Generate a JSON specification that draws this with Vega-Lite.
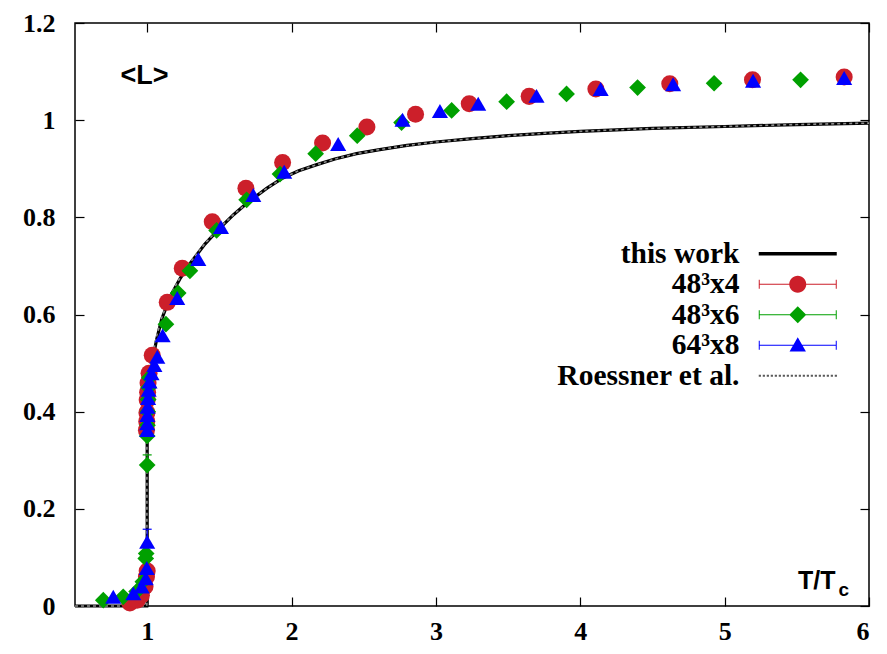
{
  "$schema": "https://vega.github.io/schema/vega-lite/v6.json",
  "width": 794,
  "height": 583,
  "autosize": {"type": "none"},
  "padding": {"left": 75, "top": 23, "right": 18, "bottom": 48},
  "background": "white",
  "config": {
    "view": {"stroke": "#000000", "strokeWidth": 1.5},
    "axis": {
      "domain": false,
      "grid": false,
      "tickColor": "#000000",
      "tickWidth": 1.2,
      "tickSize": -9,
      "labelFont": "Liberation Serif",
      "labelFontWeight": "bold",
      "labelFontSize": 26,
      "labelColor": "#000000",
      "titleColor": "#000000"
    }
  },
  "datasets": {
    "curves": [
      {"series": "this work", "i": 0, "T": 0.5, "L": 0},
      {"series": "this work", "i": 1, "T": 0.998, "L": 0},
      {"series": "this work", "i": 2, "T": 1.0, "L": 0.005},
      {"series": "this work", "i": 3, "T": 1.0, "L": 0.4},
      {"series": "this work", "i": 4, "T": 1.004, "L": 0.43},
      {"series": "this work", "i": 5, "T": 1.01, "L": 0.452},
      {"series": "this work", "i": 6, "T": 1.02, "L": 0.476},
      {"series": "this work", "i": 7, "T": 1.04, "L": 0.51},
      {"series": "this work", "i": 8, "T": 1.065, "L": 0.548},
      {"series": "this work", "i": 9, "T": 1.1, "L": 0.59},
      {"series": "this work", "i": 10, "T": 1.16, "L": 0.637},
      {"series": "this work", "i": 11, "T": 1.23, "L": 0.675},
      {"series": "this work", "i": 12, "T": 1.3, "L": 0.706},
      {"series": "this work", "i": 13, "T": 1.4, "L": 0.745},
      {"series": "this work", "i": 14, "T": 1.5, "L": 0.777},
      {"series": "this work", "i": 15, "T": 1.6, "L": 0.806},
      {"series": "this work", "i": 16, "T": 1.71, "L": 0.834},
      {"series": "this work", "i": 17, "T": 1.83, "L": 0.86},
      {"series": "this work", "i": 18, "T": 1.94, "L": 0.881},
      {"series": "this work", "i": 19, "T": 2.05, "L": 0.896},
      {"series": "this work", "i": 20, "T": 2.17, "L": 0.908},
      {"series": "this work", "i": 21, "T": 2.3, "L": 0.92},
      {"series": "this work", "i": 22, "T": 2.45, "L": 0.931},
      {"series": "this work", "i": 23, "T": 2.6, "L": 0.939},
      {"series": "this work", "i": 24, "T": 2.8, "L": 0.948},
      {"series": "this work", "i": 25, "T": 3.0, "L": 0.955},
      {"series": "this work", "i": 26, "T": 3.25, "L": 0.962},
      {"series": "this work", "i": 27, "T": 3.5, "L": 0.968},
      {"series": "this work", "i": 28, "T": 3.75, "L": 0.973},
      {"series": "this work", "i": 29, "T": 4.0, "L": 0.977},
      {"series": "this work", "i": 30, "T": 4.5, "L": 0.983},
      {"series": "this work", "i": 31, "T": 5.0, "L": 0.987},
      {"series": "this work", "i": 32, "T": 5.5, "L": 0.991},
      {"series": "this work", "i": 33, "T": 6.0, "L": 0.994},
      {"series": "Roessner et al.", "i": 0, "T": 0.5, "L": 0},
      {"series": "Roessner et al.", "i": 1, "T": 0.997, "L": 0},
      {"series": "Roessner et al.", "i": 2, "T": 0.998, "L": 0.005},
      {"series": "Roessner et al.", "i": 3, "T": 0.998, "L": 0.4},
      {"series": "Roessner et al.", "i": 4, "T": 1.002, "L": 0.432},
      {"series": "Roessner et al.", "i": 5, "T": 1.008, "L": 0.455},
      {"series": "Roessner et al.", "i": 6, "T": 1.018, "L": 0.48},
      {"series": "Roessner et al.", "i": 7, "T": 1.038, "L": 0.514},
      {"series": "Roessner et al.", "i": 8, "T": 1.062, "L": 0.552},
      {"series": "Roessner et al.", "i": 9, "T": 1.1, "L": 0.593},
      {"series": "Roessner et al.", "i": 10, "T": 1.16, "L": 0.64},
      {"series": "Roessner et al.", "i": 11, "T": 1.23, "L": 0.677},
      {"series": "Roessner et al.", "i": 12, "T": 1.3, "L": 0.708},
      {"series": "Roessner et al.", "i": 13, "T": 1.4, "L": 0.746},
      {"series": "Roessner et al.", "i": 14, "T": 1.5, "L": 0.778},
      {"series": "Roessner et al.", "i": 15, "T": 1.6, "L": 0.806},
      {"series": "Roessner et al.", "i": 16, "T": 1.71, "L": 0.834},
      {"series": "Roessner et al.", "i": 17, "T": 1.83, "L": 0.86},
      {"series": "Roessner et al.", "i": 18, "T": 1.94, "L": 0.881},
      {"series": "Roessner et al.", "i": 19, "T": 2.05, "L": 0.896},
      {"series": "Roessner et al.", "i": 20, "T": 2.17, "L": 0.908},
      {"series": "Roessner et al.", "i": 21, "T": 2.3, "L": 0.92},
      {"series": "Roessner et al.", "i": 22, "T": 2.45, "L": 0.931},
      {"series": "Roessner et al.", "i": 23, "T": 2.6, "L": 0.939},
      {"series": "Roessner et al.", "i": 24, "T": 2.8, "L": 0.948},
      {"series": "Roessner et al.", "i": 25, "T": 3.0, "L": 0.955},
      {"series": "Roessner et al.", "i": 26, "T": 3.25, "L": 0.962},
      {"series": "Roessner et al.", "i": 27, "T": 3.5, "L": 0.968},
      {"series": "Roessner et al.", "i": 28, "T": 3.75, "L": 0.973},
      {"series": "Roessner et al.", "i": 29, "T": 4.0, "L": 0.977},
      {"series": "Roessner et al.", "i": 30, "T": 4.5, "L": 0.983},
      {"series": "Roessner et al.", "i": 31, "T": 5.0, "L": 0.987},
      {"series": "Roessner et al.", "i": 32, "T": 5.5, "L": 0.991},
      {"series": "Roessner et al.", "i": 33, "T": 6.0, "L": 0.994}
    ],
    "points": [
      {"series": "48³x4", "T": 0.88, "L": 0.006},
      {"series": "48³x4", "T": 0.93, "L": 0.012},
      {"series": "48³x4", "T": 0.96, "L": 0.022},
      {"series": "48³x4", "T": 0.985, "L": 0.04},
      {"series": "48³x4", "T": 0.995, "L": 0.06},
      {"series": "48³x4", "T": 1.0, "L": 0.072},
      {"series": "48³x4", "T": 0.995, "L": 0.362},
      {"series": "48³x4", "T": 0.997, "L": 0.38},
      {"series": "48³x4", "T": 0.998, "L": 0.398},
      {"series": "48³x4", "T": 1.0, "L": 0.424},
      {"series": "48³x4", "T": 1.003, "L": 0.44},
      {"series": "48³x4", "T": 1.006, "L": 0.459},
      {"series": "48³x4", "T": 1.013, "L": 0.479},
      {"series": "48³x4", "T": 1.035, "L": 0.516},
      {"series": "48³x4", "T": 1.139, "L": 0.625},
      {"series": "48³x4", "T": 1.243, "L": 0.695},
      {"series": "48³x4", "T": 1.451, "L": 0.791},
      {"series": "48³x4", "T": 1.684, "L": 0.86},
      {"series": "48³x4", "T": 1.938, "L": 0.913},
      {"series": "48³x4", "T": 2.215, "L": 0.953},
      {"series": "48³x4", "T": 2.522, "L": 0.986},
      {"series": "48³x4", "T": 2.859, "L": 1.012},
      {"series": "48³x4", "T": 3.231, "L": 1.034},
      {"series": "48³x4", "T": 3.646, "L": 1.049},
      {"series": "48³x4", "T": 4.108, "L": 1.064},
      {"series": "48³x4", "T": 4.62, "L": 1.075},
      {"series": "48³x4", "T": 5.193, "L": 1.083},
      {"series": "48³x4", "T": 5.828, "L": 1.089},
      {"series": "48³x6", "T": 0.696, "L": 0.012},
      {"series": "48³x6", "T": 0.834, "L": 0.019},
      {"series": "48³x6", "T": 0.927, "L": 0.03},
      {"series": "48³x6", "T": 0.97, "L": 0.05},
      {"series": "48³x6", "T": 0.99, "L": 0.098},
      {"series": "48³x6", "T": 0.993, "L": 0.108},
      {"series": "48³x6", "T": 1.0, "L": 0.29, "lo": 0.274, "hi": 0.311},
      {"series": "48³x6", "T": 1.0, "L": 0.35},
      {"series": "48³x6", "T": 1.002, "L": 0.372},
      {"series": "48³x6", "T": 1.004, "L": 0.4},
      {"series": "48³x6", "T": 1.007, "L": 0.425},
      {"series": "48³x6", "T": 1.01, "L": 0.45},
      {"series": "48³x6", "T": 1.015, "L": 0.47},
      {"series": "48³x6", "T": 1.13, "L": 0.58},
      {"series": "48³x6", "T": 1.215, "L": 0.644},
      {"series": "48³x6", "T": 1.296, "L": 0.69},
      {"series": "48³x6", "T": 1.481, "L": 0.773},
      {"series": "48³x6", "T": 1.689, "L": 0.836},
      {"series": "48³x6", "T": 1.92, "L": 0.889},
      {"series": "48³x6", "T": 2.167, "L": 0.931},
      {"series": "48³x6", "T": 2.455, "L": 0.968},
      {"series": "48³x6", "T": 2.762, "L": 0.995},
      {"series": "48³x6", "T": 3.109, "L": 1.02},
      {"series": "48³x6", "T": 3.49, "L": 1.038},
      {"series": "48³x6", "T": 3.905, "L": 1.054},
      {"series": "48³x6", "T": 4.397, "L": 1.067},
      {"series": "48³x6", "T": 4.927, "L": 1.076},
      {"series": "48³x6", "T": 5.526, "L": 1.083},
      {"series": "64³x8", "T": 0.765, "L": 0.019},
      {"series": "64³x8", "T": 0.904, "L": 0.026},
      {"series": "64³x8", "T": 0.962, "L": 0.04},
      {"series": "64³x8", "T": 0.99, "L": 0.057},
      {"series": "64³x8", "T": 0.997, "L": 0.078},
      {"series": "64³x8", "T": 1.0, "L": 0.132, "lo": 0.095, "hi": 0.158},
      {"series": "64³x8", "T": 1.0, "L": 0.362},
      {"series": "64³x8", "T": 1.0, "L": 0.376},
      {"series": "64³x8", "T": 1.001, "L": 0.393},
      {"series": "64³x8", "T": 1.003, "L": 0.41},
      {"series": "64³x8", "T": 1.006, "L": 0.428},
      {"series": "64³x8", "T": 1.01, "L": 0.445},
      {"series": "64³x8", "T": 1.016, "L": 0.462},
      {"series": "64³x8", "T": 1.03, "L": 0.479},
      {"series": "64³x8", "T": 1.05, "L": 0.496},
      {"series": "64³x8", "T": 1.07, "L": 0.513},
      {"series": "64³x8", "T": 1.107, "L": 0.557},
      {"series": "64³x8", "T": 1.208, "L": 0.634},
      {"series": "64³x8", "T": 1.354, "L": 0.714},
      {"series": "64³x8", "T": 1.511, "L": 0.78},
      {"series": "64³x8", "T": 1.735, "L": 0.846},
      {"series": "64³x8", "T": 1.949, "L": 0.894},
      {"series": "64³x8", "T": 2.323, "L": 0.951},
      {"series": "64³x8", "T": 2.769, "L": 1.001},
      {"series": "64³x8", "T": 3.028, "L": 1.019},
      {"series": "64³x8", "T": 3.293, "L": 1.034},
      {"series": "64³x8", "T": 3.697, "L": 1.05},
      {"series": "64³x8", "T": 4.141, "L": 1.064},
      {"series": "64³x8", "T": 4.643, "L": 1.074},
      {"series": "64³x8", "T": 5.197, "L": 1.081},
      {"series": "64³x8", "T": 5.828, "L": 1.087}
    ]
  },
  "layer": [
    {
      "data": {"name": "curves"},
      "transform": [{"filter": "datum.series === 'this work'"}],
      "mark": {"type": "line", "color": "#000000", "strokeWidth": 3.2},
      "encoding": {
        "x": {
          "field": "T", "type": "quantitative",
          "scale": {"domain": [0.5, 6], "nice": false, "zero": false},
          "axis": {
            "orient": "top", "values": [1, 2, 3, 4, 5, 6], "labels": false,
            "title": "c", "titleX": 763, "titleY": 572, "titleAlign": "left",
            "titleBaseline": "alphabetic", "titleAngle": 0,
            "titleFont": "Liberation Sans", "titleFontWeight": "bold", "titleFontSize": 19
          }
        },
        "y": {
          "field": "L", "type": "quantitative",
          "scale": {"domain": [0, 1.2], "nice": false, "zero": false},
          "axis": {"orient": "right", "values": [0, 0.2, 0.4, 0.6, 0.8, 1, 1.2], "labels": false, "title": null}
        },
        "order": {"field": "i", "type": "quantitative"}
      }
    },
    {
      "data": {"name": "curves"},
      "transform": [{"filter": "datum.series === 'Roessner et al.'"}],
      "mark": {"type": "line", "color": "#8c8c8c", "strokeWidth": 1.6, "strokeDash": [3, 3]},
      "encoding": {
        "x": {"field": "T", "type": "quantitative", "axis": null},
        "y": {"field": "L", "type": "quantitative", "axis": null},
        "order": {"field": "i", "type": "quantitative"}
      }
    },
    {
      "data": {"name": "points"},
      "transform": [{"filter": "datum.series === '48³x6' && isValid(datum.lo)"}],
      "mark": {"type": "rule", "strokeWidth": 1.2, "color": "#00a000"},
      "encoding": {
        "x": {"field": "T", "type": "quantitative", "axis": null},
        "y": {"field": "lo", "type": "quantitative", "axis": null},
        "y2": {"field": "hi"}
      }
    },
    {
      "data": {"name": "points"},
      "transform": [{"filter": "datum.series === '64³x8' && isValid(datum.lo)"}],
      "mark": {"type": "rule", "strokeWidth": 1.2, "color": "#0000ff"},
      "encoding": {
        "x": {"field": "T", "type": "quantitative", "axis": null},
        "y": {"field": "lo", "type": "quantitative", "axis": null},
        "y2": {"field": "hi"}
      }
    },
    {
      "data": {"name": "points"},
      "transform": [{"filter": "datum.series === '64³x8' && isValid(datum.lo)"}],
      "mark": {"type": "tick", "orient": "horizontal", "size": 9, "thickness": 1.2, "opacity": 1, "color": "#0000ff"},
      "encoding": {
        "x": {"field": "T", "type": "quantitative", "axis": null},
        "y": {"field": "hi", "type": "quantitative", "axis": null}
      }
    },
    {
      "data": {"name": "points"},
      "transform": [{"filter": "datum.series === '48³x6' && isValid(datum.lo)"}],
      "mark": {"type": "tick", "orient": "horizontal", "size": 9, "thickness": 1.2, "opacity": 1, "color": "#00a000"},
      "encoding": {
        "x": {"field": "T", "type": "quantitative", "axis": null},
        "y": {"field": "hi", "type": "quantitative", "axis": null}
      }
    },
    {
      "data": {"name": "points"},
      "transform": [{"filter": "datum.series === '48³x4'"}],
      "mark": {"type": "point", "shape": "circle", "filled": true, "opacity": 1, "size": 290, "strokeWidth": 0, "color": "#cc1f2a"},
      "encoding": {
        "x": {
          "field": "T", "type": "quantitative",
          "axis": {
            "orient": "bottom", "values": [1, 2, 3, 4, 5, 6], "labelPadding": 21,
            "title": "T/T", "titleX": 760, "titleY": -18, "titleAlign": "right",
            "titleBaseline": "alphabetic", "titleAngle": 0,
            "titleFont": "Liberation Sans", "titleFontWeight": "bold", "titleFontSize": 25
          }
        },
        "y": {
          "field": "L", "type": "quantitative",
          "axis": {
            "orient": "left", "values": [0, 0.2, 0.4, 0.6, 0.8, 1, 1.2], "format": "~g", "labelPadding": 29,
            "title": "<L>", "titleX": 69, "titleY": 60, "titleAlign": "center",
            "titleBaseline": "alphabetic", "titleAngle": 0,
            "titleFont": "Liberation Sans", "titleFontWeight": "bold", "titleFontSize": 27
          }
        }
      }
    },
    {
      "data": {"name": "points"},
      "transform": [{"filter": "datum.series === '48³x6'"}],
      "mark": {"type": "point", "shape": "diamond", "filled": true, "opacity": 1, "size": 280, "strokeWidth": 0, "color": "#00a000"},
      "encoding": {
        "x": {"field": "T", "type": "quantitative", "axis": null},
        "y": {"field": "L", "type": "quantitative", "axis": null}
      }
    },
    {
      "data": {"name": "points"},
      "transform": [{"filter": "datum.series === '64³x8'"}],
      "mark": {"type": "point", "shape": "triangle-up", "filled": true, "opacity": 1, "size": 260, "strokeWidth": 0, "color": "#0000ff"},
      "encoding": {
        "x": {"field": "T", "type": "quantitative", "axis": null},
        "y": {"field": "L", "type": "quantitative", "axis": null}
      }
    },
    {
      "data": {"name": "points"},
      "transform": [{"filter": "datum.T < 0"}],
      "mark": {"type": "point", "filled": true, "opacity": 1, "size": 400, "strokeWidth": 0},
      "encoding": {
        "color": {
          "field": "series", "type": "nominal",
          "scale": {"domain": ["this work", "48³x4", "48³x6", "64³x8", "Roessner et al."],
                    "range": ["#000000", "#cc1f2a", "#00a000", "#0000ff", "#5a5a5a"]},
          "legend": {
            "orient": "none", "legendX": 708, "legendY": 216, "title": null, "padding": 0,
            "symbolSize": 400, "symbolStrokeWidth": 0, "rowPadding": -0.5, "labelAlign": "right", "labelOffset": -73, "labelLimit": 500,
            "labelFont": "Liberation Serif", "labelFontWeight": "bold", "labelFontSize": 29.5, "labelColor": "#000000"
          }
        },
        "shape": {
          "field": "series", "type": "nominal",
          "scale": {"domain": ["this work", "48³x4", "48³x6", "64³x8", "Roessner et al."],
                    "range": [
                      "M-3.9,-0.17H3.9V0.17H-3.9Z",
                      "M-3.9,-0.055H3.9V0.055H-3.9Z M-3.9,-0.45H-3.8V0.45H-3.9Z M3.8,-0.45H3.9V0.45H3.8Z M-0.85,0A0.85,0.85,0,1,1,0.85,0A0.85,0.85,0,1,1,-0.85,0Z",
                      "M-3.9,-0.055H3.9V0.055H-3.9Z M-3.9,-0.45H-3.8V0.45H-3.9Z M3.8,-0.45H3.9V0.45H3.8Z M0,-0.85L0.85,0L0,0.85L-0.85,0Z",
                      "M-3.9,-0.055H3.9V0.055H-3.9Z M-3.9,-0.45H-3.8V0.45H-3.9Z M3.8,-0.45H3.9V0.45H3.8Z M0,-0.8L0.82,0.62L-0.82,0.62Z",
                      "M-3.9,-0.11H-3.68V0.11H-3.9Z M-3.5,-0.11H-3.28V0.11H-3.5Z M-3.1,-0.11H-2.88V0.11H-3.1Z M-2.7,-0.11H-2.48V0.11H-2.7Z M-2.3,-0.11H-2.08V0.11H-2.3Z M-1.9,-0.11H-1.68V0.11H-1.9Z M-1.5,-0.11H-1.28V0.11H-1.5Z M-1.1,-0.11H-0.88V0.11H-1.1Z M-0.7,-0.11H-0.48V0.11H-0.7Z M-0.3,-0.11H-0.08V0.11H-0.3Z M0.1,-0.11H0.32V0.11H0.1Z M0.5,-0.11H0.72V0.11H0.5Z M0.9,-0.11H1.12V0.11H0.9Z M1.3,-0.11H1.52V0.11H1.3Z M1.7,-0.11H1.92V0.11H1.7Z M2.1,-0.11H2.32V0.11H2.1Z M2.5,-0.11H2.72V0.11H2.5Z M2.9,-0.11H3.12V0.11H2.9Z M3.3,-0.11H3.52V0.11H3.3Z M3.7,-0.11H3.92V0.11H3.7Z"
                    ]},
          "legend": {
            "orient": "none", "legendX": 708, "legendY": 216, "title": null, "padding": 0,
            "symbolSize": 400, "symbolStrokeWidth": 0, "rowPadding": -0.5, "labelAlign": "right", "labelOffset": -73, "labelLimit": 500,
            "labelFont": "Liberation Serif", "labelFontWeight": "bold", "labelFontSize": 29.5, "labelColor": "#000000"
          }
        }
      }
    }
  ],
  "resolve": {"axis": {"x": "independent", "y": "independent"}}
}
